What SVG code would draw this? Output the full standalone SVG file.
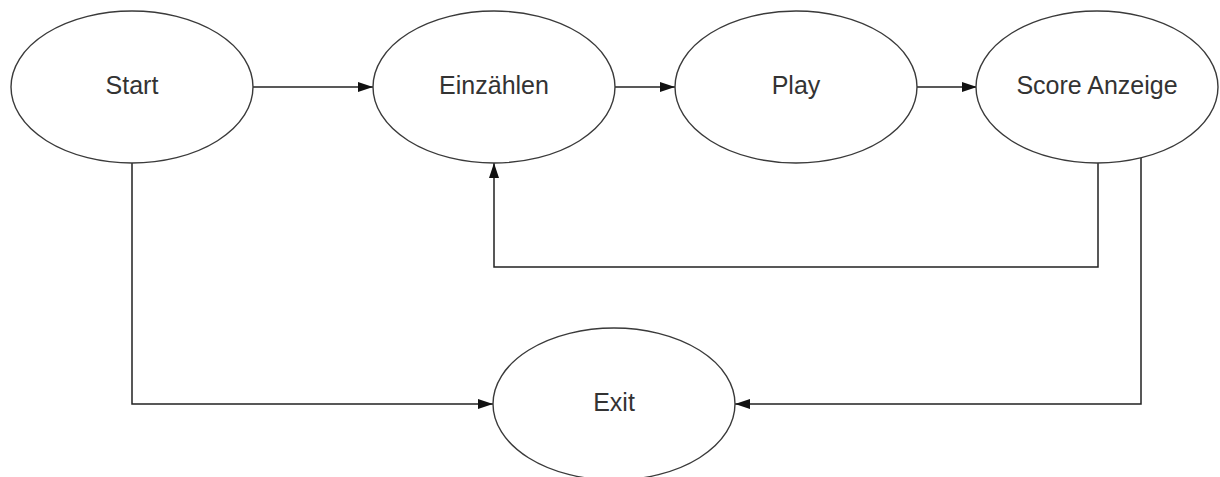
<svg xmlns="http://www.w3.org/2000/svg" width="1220" height="477" viewBox="0 0 1220 477">
  <style>
    .node ellipse { fill: #ffffff; stroke: #3a3a3a; stroke-width: 1.4; }
    .node text { font-family: "Liberation Sans", Arial, sans-serif; font-size: 25px; fill: #333333; text-anchor: middle; }
    .edge { fill: none; stroke: #222222; stroke-width: 1.5; marker-end: url(#arrow); }
  </style>
  <defs>
    <marker id="arrow" markerWidth="15" markerHeight="10" refX="15" refY="5" orient="auto" markerUnits="userSpaceOnUse">
      <path d="M0,0 L15,5 L0,10 Z" fill="#111111"/>
    </marker>
  </defs>
  <rect width="1220" height="477" fill="#ffffff"/>

  <g id="connectors">
    <path class="edge" d="M253,87 H373"/>
    <path class="edge" d="M615,87 H675"/>
    <path class="edge" d="M917,87 H977"/>
    <path class="edge" d="M1098,163 V267 H494 V163"/>
    <path class="edge" d="M132,163 V404 H493"/>
    <path class="edge" d="M1141,158 V404 H735"/>
  </g>

  <g id="start" class="node">
    <ellipse cx="132" cy="87" rx="121" ry="76"/>
    <text x="132" y="93.5">Start</text>
  </g>
  <g id="einzaehlen" class="node">
    <ellipse cx="494" cy="87" rx="121" ry="76"/>
    <text x="494" y="93.5">Einzählen</text>
  </g>
  <g id="play" class="node">
    <ellipse cx="796" cy="87" rx="121" ry="76"/>
    <text x="796" y="93.5">Play</text>
  </g>
  <g id="score" class="node">
    <ellipse cx="1097" cy="87" rx="121" ry="76"/>
    <text x="1097" y="93.5">Score Anzeige</text>
  </g>
  <g id="exit" class="node">
    <ellipse cx="614" cy="404" rx="121" ry="76"/>
    <text x="614" y="410.5">Exit</text>
  </g>
</svg>
